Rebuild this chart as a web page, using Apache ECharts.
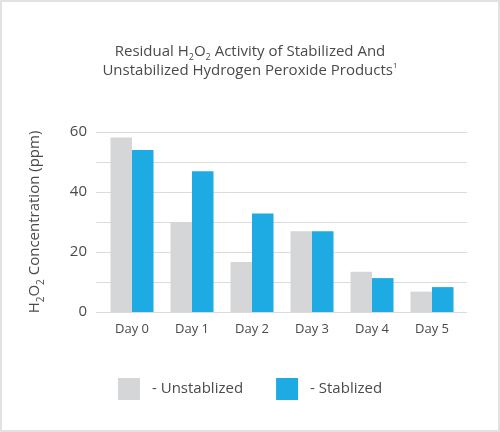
<!DOCTYPE html>
<html>
<head>
<meta charset="utf-8">
<script src="https://cdn.jsdelivr.net/npm/echarts@6/dist/echarts.min.js"></script>
<style>
  html, body { margin: 0; padding: 0; background: #fff; }
  #main { width: 500px; height: 432px; box-shadow: inset 0 0 0 2px #e2e2e2; }
</style>
</head>
<body>
<div id="main"></div>
<script>
var categories = ['Day 0', 'Day 1', 'Day 2', 'Day 3', 'Day 4', 'Day 5'];
var unstablized = [58.2, 30, 16.7, 26.9, 13.4, 6.8];
var stablized = [54, 46.9, 32.8, 26.9, 11.3, 8.3];
var yMin = 0, yMax = 60, yStep = 10, yLabelStep = 20;

var font = 'Open Sans';
var textColor = '#4a4a4a';

var chart = echarts.init(document.getElementById('main'));
chart.setOption({
    animation: false,
    textStyle: { fontFamily: font },
    title: {
        text: '{a|Residual H}{s|2}{a|O}{s|2}{a| Activity of Stabilized And}\n{a|Unstabilized Hydrogen Peroxide Products}{p|1}',
        left: 'center',
        top: 41,
        padding: 0,
        textStyle: {
            fontWeight: 'normal',
            rich: {
                a: { fontFamily: font, fontSize: 15, fontWeight: 'normal', color: textColor, lineHeight: 17 },
                s: { fontFamily: font, fontSize: 9, fontWeight: 'normal', color: textColor, lineHeight: 21, verticalAlign: 'bottom' },
                p: { fontFamily: font, fontSize: 8, fontWeight: 'normal', color: textColor, lineHeight: 17, verticalAlign: 'top' }
            }
        }
    },
    legend: {
        left: 118,
        top: 378,
        padding: 0,
        itemWidth: 22,
        itemHeight: 22,
        itemGap: 33,
        icon: 'rect',
        formatter: '- {name}',
        textStyle: { fontFamily: font, fontSize: 15, color: textColor, padding: [0, 0, 0, 7] },
        data: ['Unstablized', 'Stablized']
    },
    grid: [
        { left: 102, width: 360, top: 132, bottom: 120 },
        { left: 96, right: 33, top: 132, bottom: 120 }
    ],
    xAxis: [
        {
            type: 'category',
            gridIndex: 0,
            data: categories,
            axisLine: { show: false },
            axisTick: { show: false },
            axisLabel: { margin: 11, fontFamily: font, fontSize: 13, color: textColor }
        },
        { type: 'value', gridIndex: 1, show: false, min: 0, max: 1 }
    ],
    yAxis: [
        { type: 'value', gridIndex: 0, show: false, min: yMin, max: yMax, interval: yStep },
        {
            type: 'value',
            gridIndex: 1,
            min: yMin,
            max: yMax,
            interval: yStep,
            axisLine: { show: false },
            axisTick: { show: false },
            axisLabel: {
                margin: 9,
                fontFamily: font,
                fontSize: 15,
                color: textColor,
                formatter: function (v) { return v % yLabelStep === 0 ? String(v) : ''; }
            },
            splitLine: { lineStyle: { color: '#dcdcdc', width: 1.2 } },
            name: '{t|H}{s|2}{t|O}{s|2}{t| Concentration (ppm)}',
            nameLocation: 'middle',
            nameGap: 50,
            nameTextStyle: {
                rich: {
                    t: { fontFamily: font, fontSize: 15, color: textColor, lineHeight: 22 },
                    s: { fontFamily: font, fontSize: 10, color: textColor, lineHeight: 22, verticalAlign: 'bottom' }
                }
            }
        }
    ],
    series: [
        {
            name: 'Unstablized',
            type: 'bar',
            xAxisIndex: 0,
            yAxisIndex: 0,
            barWidth: 21.5,
            barGap: '0%',
            itemStyle: { color: '#d5d6d8' },
            data: unstablized
        },
        {
            name: 'Stablized',
            type: 'bar',
            xAxisIndex: 0,
            yAxisIndex: 0,
            barWidth: 21.5,
            barGap: '0%',
            itemStyle: { color: '#1eabe3' },
            data: stablized
        }
    ]
});
</script>
</body>
</html>
